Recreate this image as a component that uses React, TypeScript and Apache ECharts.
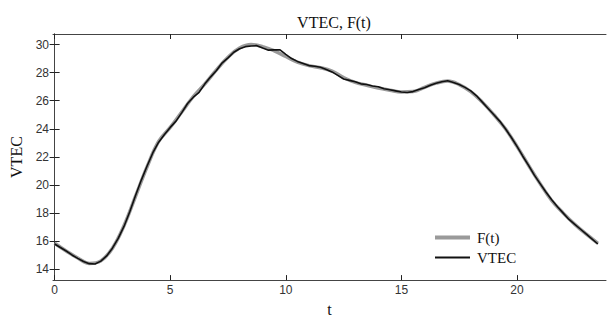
import React, { useEffect, useRef } from "react";
import * as echarts from "echarts";

const xTicks = [0, 5, 10, 15, 20];
const yTicks = [14, 16, 18, 20, 22, 24, 26, 28, 30];

const fitT = [0, 0.5, 1, 1.5, 2, 2.5, 3, 3.5, 4, 4.5, 5, 5.5, 6, 6.5, 7, 7.5, 8, 8.5, 9, 9.5, 10, 10.5, 11, 11.5, 12, 12.5, 13, 13.5, 14, 14.5, 15, 15.5, 16, 16.5, 17, 17.5, 18, 18.5, 19, 19.5, 20, 20.5, 21, 21.5, 22, 22.5, 23, 23.5];
const fitV = [15.85, 15.3, 14.8, 14.42, 14.6, 15.5, 17.1, 19.2, 21.3, 23.1, 24.1, 25.2, 26.3, 27.2, 28.2, 29.1, 29.75, 30.0, 29.85, 29.55, 29.15, 28.75, 28.5, 28.35, 28.1, 27.65, 27.3, 27.1, 26.9, 26.75, 26.62, 26.65, 26.95, 27.25, 27.4, 27.15, 26.65, 25.9, 25.0, 24.0, 22.75, 21.4, 20.1, 18.9, 18.0, 17.2, 16.5, 15.85];

const vtecT = [0, 0.25, 0.5, 0.75, 1, 1.25, 1.5, 1.75, 2, 2.25, 2.5, 2.75, 3, 3.25, 3.5, 3.75, 4, 4.25, 4.5, 4.75, 5, 5.25, 5.5, 5.75, 6, 6.25, 6.5, 6.75, 7, 7.25, 7.5, 7.75, 8, 8.25, 8.5, 8.75, 9, 9.25, 9.5, 9.75, 10, 10.25, 10.5, 10.75, 11, 11.25, 11.5, 11.75, 12, 12.25, 12.5, 12.75, 13, 13.25, 13.5, 13.75, 14, 14.25, 14.5, 14.75, 15, 15.25, 15.5, 15.75, 16, 16.25, 16.5, 16.75, 17, 17.25, 17.5, 17.75, 18, 18.25, 18.5, 18.75, 19, 19.25, 19.5, 19.75, 20, 20.25, 20.5, 20.75, 21, 21.25, 21.5, 21.75, 22, 22.25, 22.5, 22.75, 23, 23.25, 23.5];
const vtecV = [15.8, 15.55, 15.3, 15.02, 14.78, 14.55, 14.4, 14.38, 14.58, 14.95, 15.5, 16.2, 17.05, 18.1, 19.25, 20.35, 21.35, 22.3, 23.05, 23.6, 24.1, 24.55, 25.15, 25.8, 26.25, 26.6, 27.2, 27.7, 28.15, 28.7, 29.05, 29.45, 29.7, 29.85, 29.9, 29.92, 29.75, 29.6, 29.62, 29.62, 29.3, 29.0, 28.8, 28.65, 28.5, 28.45, 28.38, 28.22, 28.05, 27.8, 27.55, 27.45, 27.35, 27.2, 27.15, 27.05, 27.0, 26.85, 26.78, 26.7, 26.62, 26.58, 26.65, 26.8, 26.92, 27.1, 27.25, 27.35, 27.42, 27.3, 27.15, 26.95, 26.7, 26.35, 25.9, 25.45, 25.0, 24.55, 24.0, 23.4, 22.75, 22.05, 21.4, 20.7, 20.1, 19.5, 18.95, 18.45, 18.0, 17.55, 17.2, 16.85, 16.5, 16.15, 15.8];

const X_MIN = -0.07;
const X_MAX = 23.85;
const Y_MIN = 13.23;
const Y_MAX = 30.75;

export default function App() {
  const ref = useRef<HTMLDivElement>(null);
  useEffect(() => {
    if (!ref.current) return;
    const chart = echarts.init(ref.current, null, { renderer: "svg" });
    const axisLine = { show: true, lineStyle: { color: "#444", width: 1 } };
    const tickStyle = { color: "#222", width: 1 };
    const labelFont = { fontFamily: "Liberation Sans", fontSize: 12, color: "#333" };
    const serif = "Liberation Serif";
    chart.setOption({
      animation: false,
      backgroundColor: "#fff",
      title: {
        text: "VTEC, F(t)",
        left: 329,
        textAlign: "center",
        top: 9,
        textStyle: { fontFamily: serif, fontSize: 16, fontWeight: "normal", color: "#111" },
      },
      grid: { left: 53, right: 4, top: 34, bottom: 32, containLabel: false },
      legend: [
        {
          data: ["F(t)"],
          left: 430,
          top: 225,
          icon: "rect",
          itemWidth: 35,
          itemHeight: 4,
          itemGap: 4,
          textStyle: { fontFamily: serif, fontSize: 15, color: "#111", padding: [0, 0, 0, 2] },
        },
        {
          data: ["VTEC"],
          left: 430,
          top: 245,
          icon: "rect",
          itemWidth: 35,
          itemHeight: 2,
          itemGap: 4,
          textStyle: { fontFamily: serif, fontSize: 15, color: "#111", padding: [0, 0, 0, 2] },
        },
      ],
      xAxis: [
        {
          type: "value",
          min: X_MIN,
          max: X_MAX,
          position: "bottom",
          name: "t",
          nameLocation: "middle",
          nameGap: 17,
          nameTextStyle: { fontFamily: serif, fontSize: 16, color: "#111" },
          axisLine,
          splitLine: { show: false },
          axisTick: { show: true, inside: true, length: 5, lineStyle: tickStyle, customValues: xTicks },
          axisLabel: { ...labelFont, margin: 4, customValues: xTicks },
        },
        {
          type: "value",
          min: X_MIN,
          max: X_MAX,
          position: "top",
          axisLine,
          splitLine: { show: false },
          axisTick: { show: true, inside: true, length: 5, lineStyle: tickStyle, customValues: xTicks },
          axisLabel: { show: false },
        },
      ],
      yAxis: [
        {
          type: "value",
          min: Y_MIN,
          max: Y_MAX,
          position: "left",
          name: "VTEC",
          nameLocation: "middle",
          nameGap: 22,
          nameRotate: 90,
          nameTextStyle: { fontFamily: serif, fontSize: 16, color: "#111" },
          axisLine,
          splitLine: { show: false },
          axisTick: { show: true, inside: true, length: 5, lineStyle: tickStyle, customValues: yTicks },
          axisLabel: { ...labelFont, margin: 4, customValues: yTicks },
        },
        {
          type: "value",
          min: Y_MIN,
          max: Y_MAX,
          position: "right",
          axisLine,
          splitLine: { show: false },
          axisTick: { show: true, inside: true, length: 5, lineStyle: tickStyle, customValues: yTicks },
          axisLabel: { show: false },
        },
      ],
      series: [
        {
          name: "F(t)",
          type: "line",
          xAxisIndex: 0,
          yAxisIndex: 0,
          data: fitT.map((t, i) => [t, fitV[i]]),
          smooth: 0.4,
          showSymbol: false,
          lineStyle: { color: "#9a9a9a", width: 3.5 },
          itemStyle: { color: "#9a9a9a" },
        },
        {
          name: "VTEC",
          type: "line",
          xAxisIndex: 0,
          yAxisIndex: 0,
          data: vtecT.map((t, i) => [t, vtecV[i]]),
          smooth: false,
          showSymbol: false,
          lineStyle: { color: "#111", width: 1.6 },
          itemStyle: { color: "#111" },
        },
      ],
    });
    return () => chart.dispose();
  }, []);
  return <div ref={ref} style={{ width: 610, height: 322, position: "absolute", left: 0, top: 0 }} />;
}
